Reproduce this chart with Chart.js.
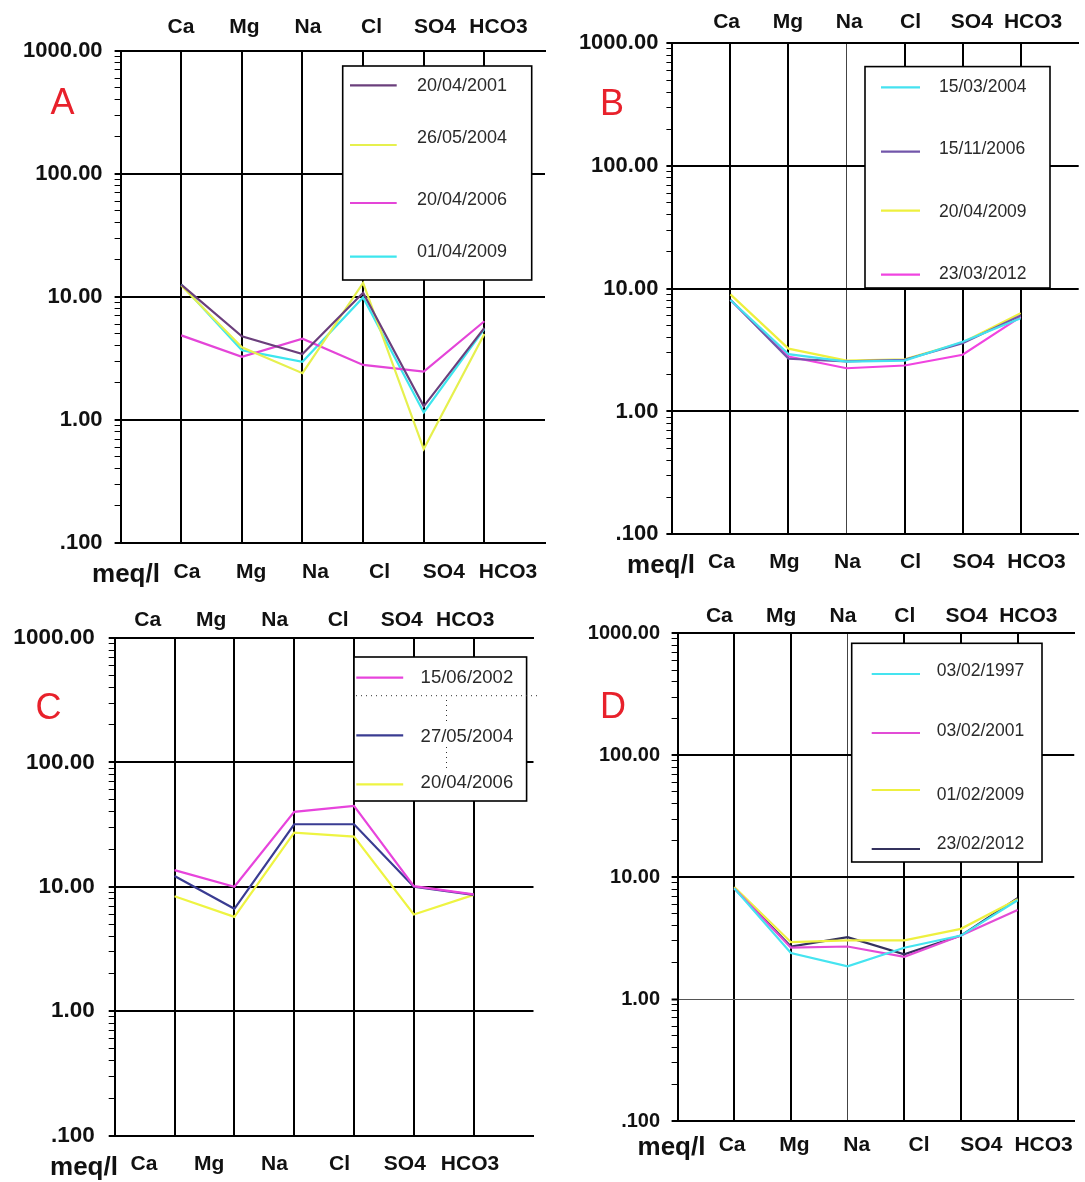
<!DOCTYPE html>
<html>
<head>
<meta charset="utf-8">
<script src="https://cdn.jsdelivr.net/npm/chart.js@4.4.1/dist/chart.umd.min.js"></script>
<style>
  body { margin: 0; background: #fff; }
  #wrap { position: relative; width: 1085px; height: 1182px; overflow: hidden; }
  #wrap canvas { position: absolute; left: 0; top: 0; }
  .tag { position: absolute; transform: translate(-50%, -50%); white-space: nowrap;
         font-family: 'Liberation Sans', Arial, sans-serif; line-height: 1; }
  .letter { color: #e8212b; font-size: 36px; }
  .unit { color: #111; font-size: 26px; font-weight: bold; }
</style>
</head>
<body>
<div id="wrap"></div>
<script>
// ---- data (meq/l) ----
const ions = ['Ca', 'Mg', 'Na', 'Cl', 'SO4', 'HCO3']
const yTickValues = [0.1, 1, 10, 100, 1000]
const yTickLabels = ['.100', '1.00', '10.00', '100.00', '1000.00']

// panel A
const datesA = ['20/04/2001', '26/05/2004', '20/04/2006', '01/04/2009']
const a2001 = [12.6, 4.78, 3.43, 10.8, 1.29, 5.6]
const a2004 = [12.4, 3.9, 2.4, 13.0, 0.58, 5.0]
const a2006 = [4.87, 3.26, 4.57, 2.8, 2.47, 6.34]
const a2009 = [12.6, 3.69, 2.97, 9.9, 1.15, 5.5]

// panel B
const datesB = ['15/03/2004', '15/11/2006', '20/04/2009', '23/03/2012']
const b2004 = [8.1, 2.93, 2.55, 2.6, 3.7, 5.75]
const b2006 = [8.13, 2.69, 2.56, 2.64, 3.6, 6.05]
const b2009 = [9.0, 3.25, 2.6, 2.66, 3.65, 6.33]
const b2012 = [8.1, 2.8, 2.25, 2.37, 2.9, 5.9]

// panel C
const datesC = ['15/06/2002', '27/05/2004', '20/04/2006']
const c2002 = [13.6, 10.0, 40.0, 44.7, 10.1, 8.67]
const c2004 = [12.2, 6.65, 31.8, 31.8, 10.0, 8.6]
const c2006 = [8.4, 5.73, 27.2, 25.3, 5.98, 8.6]

// panel D
const datesD = ['03/02/1997', '03/02/2001', '01/02/2009', '23/02/2012']
const d1997 = [8.1, 2.39, 1.86, 2.64, 3.32, 6.47]
const d2001 = [8.1, 2.64, 2.7, 2.22, 3.32, 5.37]
const d2009 = [8.3, 2.93, 3.03, 3.03, 3.77, 6.6]
const d2012 = [8.1, 2.7, 3.22, 2.33, 3.32, 6.72]

// ---- layout (page pixels) ----
const W = 1085, H = 1182
const YW = 110, XH = 40
const FONT = "'Liberation Sans', Arial, sans-serif"

const panels = [
  { letter: 'A', series: [a2001, a2004, a2006, a2009], dates: datesA,
    colors: ['#6b3f7c', '#e6f04e', '#e445d8', '#3de6ee'],
    L: 120.6, R: 545, T: 50.8, B: 543,
    top: [181, 63.5], bot: [187, 64.2], topPad: 11, botPad: 16.5,
    yFont: 22, yPad: 12, ionFont: 21, thinX: [], thinY: [],
    letterAt: [62.5, 101.5], unitAt: [126, 573],
    legend: { box: [342.7, 66, 531.7, 280], line: [350, 396.7], lineY: [85.3, 145, 203, 256.7],
              textX: 417, textY: [86, 138, 200, 251.7], font: 18 } },
  { letter: 'B', series: [b2004, b2006, b2009, b2012], dates: datesB,
    colors: ['#45e2f0', '#7256aa', '#eef03e', '#f044e0'],
    L: 672.4, R: 1078.7, T: 43.3, B: 534.2,
    top: [726.6, 61.3], bot: [721.5, 63], topPad: 8, botPad: 15.7,
    yFont: 22, yPad: 8, ionFont: 21, thinX: [2], thinY: [],
    letterAt: [612, 102.5], unitAt: [661, 564],
    legend: { box: [865, 66.6, 1050, 288], line: [881, 920], lineY: [87.3, 151.6, 210.7, 274.6],
              textX: 939, textY: [87, 149, 212.6, 274.6], font: 17.5 } },
  { letter: 'C', series: [c2002, c2004, c2006], dates: datesC,
    colors: ['#e744dc', '#3a3c92', '#eef442'],
    L: 114.7, R: 533.5, T: 638, B: 1135.5,
    top: [147.7, 63.5], bot: [144, 65.2], topPad: 5.4, botPad: 16.6,
    yFont: 22.5, yPad: 14, ionFont: 21, thinX: [], thinY: [],
    letterAt: [48.5, 707], unitAt: [84, 1166],
    legend: { box: [354, 657, 526.6, 801], line: [356.3, 403.2], lineY: [677.6, 735.3, 784.4],
              textX: 420.6, textY: [677.6, 736.5, 782.5], font: 18.5, dots: true } },
  { letter: 'D', series: [d1997, d2001, d2009, d2012], dates: datesD,
    colors: ['#45e4f0', '#e24cd6', '#eef040', '#34325e'],
    L: 677.6, R: 1078.7, T: 633.4, B: 1121,
    top: [719.8, 62.5], bot: [732.7, 63], topPad: 5, botPad: 11.4,
    yFont: 20, yPad: 11.5, ionFont: 21, thinX: [2], thinY: [1],
    letterAt: [613, 706], unitAt: [671.5, 1146],
    legend: { box: [851.7, 643.3, 1042, 862], line: [871.7, 920], lineY: [674, 733, 790, 849],
              textX: 936.7, textY: [670.7, 731, 795, 844.3], font: 17.5 } }
]

// all ticks of the log axis: 1..9 in every decade, labels only on decades
const yAllTicks = []
yTickValues.forEach((d, i) => {
  if (i === yTickValues.length - 1) { yAllTicks.push(d); return }
  for (let k = 1; k <= 9; k++) yAllTicks.push(+(d * k).toPrecision(6))
})
const decadeIndex = v => yTickValues.findIndex(d => Math.abs(v / d - 1) < 1e-6)

const boxLegend = {
  id: 'boxLegend',
  afterDatasetsDraw(chart, args, o) {
    const c = chart.ctx
    const [x0, y0, x1, y1] = o.box
    c.save()
    c.fillStyle = '#fff'
    c.fillRect(x0, y0, x1 - x0, y1 - y0)
    c.strokeStyle = '#000'
    c.lineWidth = 1.6
    c.strokeRect(x0, y0, x1 - x0, y1 - y0)
    c.font = o.font + 'px ' + FONT
    c.textBaseline = 'middle'
    c.textAlign = 'left'
    chart.data.datasets.forEach((ds, i) => {
      c.strokeStyle = ds.borderColor
      c.lineWidth = 2.2
      c.beginPath()
      c.moveTo(o.line[0], o.lineY[i])
      c.lineTo(o.line[1], o.lineY[i])
      c.stroke()
      c.fillStyle = '#2a2a2a'
      c.fillText(ds.label, o.textX, o.textY[i])
    })
    if (o.dots) {
      // dotted guide lines left in the original legend
      c.strokeStyle = '#333'
      c.lineWidth = 1
      c.setLineDash([1, 4])
      c.beginPath()
      c.moveTo(x0 + 2, 695.7); c.lineTo(x1 + 12, 695.7)
      c.moveTo(446.5, 700); c.lineTo(446.5, 724)
      c.moveTo(446.5, 747); c.lineTo(446.5, 770)
      c.stroke()
    }
    c.restore()
  }
}

function labelAxis(p, pos, first, step, pad) {
  const min = 1 - (first - p.L) / step
  return {
    type: 'linear', position: pos, weight: 1,
    min: min, max: min + (p.R - p.L) / step,
    afterBuildTicks: s => { s.ticks = ions.map((_, i) => ({ value: i + 1 })) },
    afterFit: s => { s.height = XH },
    grid: { display: false, drawTicks: false },
    border: { display: true, color: '#000', width: 2 },
    ticks: {
      autoSkip: false, maxRotation: 0, padding: pad, color: '#111',
      font: { family: FONT, size: p.ionFont, weight: 'bold' },
      callback: v => ions[Math.round(v) - 1] || ''
    }
  }
}

const wrap = document.getElementById('wrap')

panels.forEach(p => {
  const canvas = document.createElement('canvas')
  canvas.width = W
  canvas.height = H
  wrap.appendChild(canvas)

  new Chart(canvas, {
    type: 'line',
    data: {
      datasets: p.series.map((s, i) => ({
        label: p.dates[i],
        data: s.map((v, j) => ({ x: j + 1, y: v })),
        xAxisID: 'x', yAxisID: 'y',
        borderColor: p.colors[i],
        borderWidth: 2.2,
        pointRadius: 0,
        tension: 0,
        fill: false
      }))
    },
    options: {
      responsive: false,
      animation: false,
      events: [],
      layout: { padding: { left: p.L - YW, right: W - p.R, top: p.T - XH, bottom: H - p.B - XH } },
      plugins: {
        legend: { display: false },
        tooltip: { enabled: false },
        boxLegend: p.legend
      },
      scales: {
        x: {
          type: 'linear', position: 'bottom', weight: 0, min: 0, max: 7,
          afterBuildTicks: s => { s.ticks = ions.map((_, i) => ({ value: i + 1 })) },
          afterFit: s => { s.height = 0 },
          ticks: { display: false },
          border: { display: false },
          grid: {
            drawTicks: false,
            color: ctx => p.thinX.includes(ctx.index) ? '#444' : '#000',
            lineWidth: ctx => p.thinX.includes(ctx.index) ? 1 : 2
          }
        },
        xt: labelAxis(p, 'top', p.top[0], p.top[1], p.topPad),
        xb: labelAxis(p, 'bottom', p.bot[0], p.bot[1], p.botPad),
        y: {
          type: 'logarithmic', position: 'left', min: 0.1, max: 1000,
          afterBuildTicks: s => { s.ticks = yAllTicks.map(v => ({ value: v })) },
          afterFit: s => { s.width = YW },
          border: { display: true, color: '#000', width: 2 },
          grid: {
            tickLength: 6,
            tickColor: '#000',
            tickWidth: ctx => decadeIndex(ctx.tick.value) >= 0 ? 2 : 1,
            color: ctx => {
              const d = decadeIndex(ctx.tick.value)
              if (d < 0) return 'rgba(0,0,0,0)'
              return p.thinY.includes(d) ? '#555' : '#000'
            },
            lineWidth: ctx => {
              const d = decadeIndex(ctx.tick.value)
              return d >= 0 && !p.thinY.includes(d) ? 2 : 1
            }
          },
          ticks: {
            autoSkip: false, padding: p.yPad, color: '#111',
            font: { family: FONT, size: p.yFont, weight: 'bold' },
            callback: v => {
              const d = decadeIndex(v)
              return d >= 0 ? yTickLabels[d] : ''
            }
          }
        }
      }
    },
    plugins: [boxLegend]
  })

  const letter = document.createElement('div')
  letter.className = 'tag letter'
  letter.textContent = p.letter
  letter.style.left = p.letterAt[0] + 'px'
  letter.style.top = p.letterAt[1] + 'px'
  wrap.appendChild(letter)

  const unit = document.createElement('div')
  unit.className = 'tag unit'
  unit.textContent = 'meq/l'
  unit.style.left = p.unitAt[0] + 'px'
  unit.style.top = p.unitAt[1] + 'px'
  wrap.appendChild(unit)
})
</script>
</body>
</html>
